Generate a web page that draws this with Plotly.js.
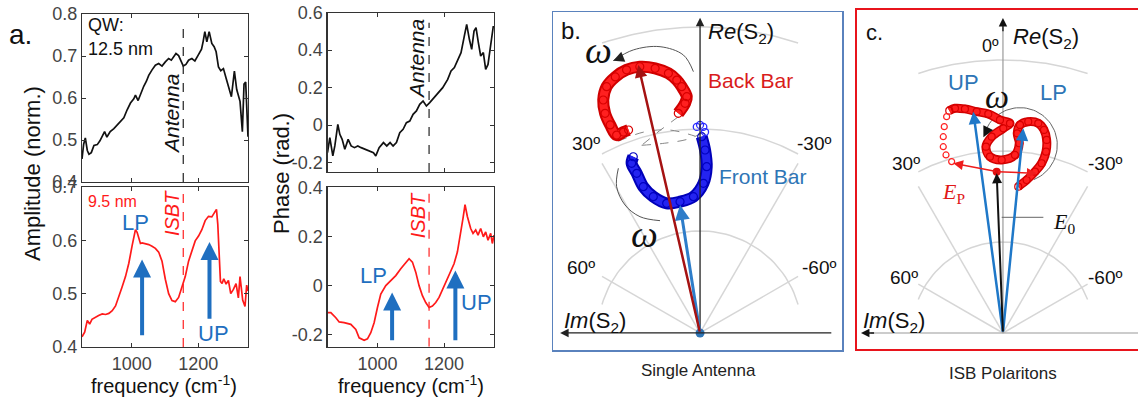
<!DOCTYPE html>
<html><head><meta charset="utf-8">
<script src="https://cdn.plot.ly/plotly-3.0.1.min.js"></script>
<style>html,body{margin:0;padding:0;background:#fff}#chart{width:1138px;height:399px}</style>
</head><body><div id="chart"></div>
<script>
// ---------- Panel a data ----------
const ampTopFreq = [850,855,860,866,871,878,886,896,904,912,918,925,935,946,956,966,976,986,996,1006,1011,1019,1027,1036,1044,1051,1061,1071,1081,1091,1101,1111,1119,1126,1133,1141,1148,1155,1163,1171,1181,1190,1200,1210,1215,1220,1226,1233,1241,1248,1254,1261,1268,1276,1283,1291,1300,1309,1316,1326,1333,1338,1343,1350];
const ampTopVal  = [0.455,0.49,0.505,0.475,0.466,0.47,0.487,0.489,0.498,0.51,0.52,0.507,0.52,0.527,0.535,0.545,0.553,0.572,0.588,0.598,0.607,0.594,0.612,0.628,0.64,0.654,0.667,0.678,0.682,0.676,0.686,0.694,0.69,0.698,0.706,0.701,0.688,0.676,0.68,0.69,0.694,0.688,0.702,0.716,0.735,0.758,0.734,0.758,0.73,0.722,0.71,0.674,0.665,0.67,0.65,0.627,0.603,0.664,0.62,0.592,0.52,0.633,0.638,0.508];

const ampBotFreq = [850,858,866,873,880,890,900,911,921,931,941,951,961,971,981,991,1001,1006,1011,1016,1021,1026,1031,1041,1051,1061,1071,1081,1091,1101,1111,1121,1131,1141,1151,1161,1171,1181,1191,1201,1211,1221,1231,1241,1249,1255,1259,1263,1267,1272,1277,1284,1291,1298,1306,1314,1321,1326,1334,1341,1346,1350];
const ampBotVal  = [0.419,0.428,0.45,0.443,0.452,0.456,0.459,0.462,0.461,0.463,0.468,0.477,0.497,0.513,0.532,0.557,0.59,0.607,0.62,0.615,0.602,0.594,0.595,0.594,0.592,0.589,0.585,0.578,0.561,0.527,0.5,0.487,0.485,0.493,0.515,0.532,0.561,0.582,0.599,0.608,0.62,0.637,0.645,0.644,0.652,0.658,0.63,0.56,0.523,0.519,0.528,0.518,0.525,0.5,0.508,0.519,0.492,0.532,0.488,0.476,0.516,0.505];

const phTopFreq = [850,857,866,872,881,887,894,902,912,921,931,941,951,963,978,988,995,1005,1018,1028,1038,1047,1057,1067,1077,1087,1097,1107,1117,1127,1137,1147,1157,1166,1181,1196,1211,1221,1231,1241,1251,1261,1268,1276,1283,1290,1296,1303,1310,1318,1325,1332,1340,1348];
const phTopVal  = [-0.147,-0.067,-0.164,-0.111,0.004,-0.049,-0.076,-0.129,-0.076,-0.111,-0.12,-0.111,-0.12,-0.129,-0.138,-0.147,-0.164,-0.12,-0.093,-0.111,-0.093,-0.111,-0.093,-0.04,-0.022,0.013,0.022,0.058,0.076,0.111,0.129,0.102,0.12,0.138,0.164,0.2,0.244,0.289,0.307,0.351,0.387,0.476,0.538,0.458,0.404,0.502,0.52,0.44,0.369,0.387,0.298,0.324,0.422,0.529];

const phBotFreq = [850,860,875,885,900,920,935,945,960,970,980,990,1000,1010,1025,1040,1055,1070,1085,1095,1105,1115,1125,1135,1145,1155,1165,1175,1185,1200,1215,1230,1240,1250,1257,1263,1270,1280,1287,1295,1302,1310,1318,1325,1332,1340,1345,1350];
const phBotVal  = [-0.111,-0.111,-0.132,-0.149,-0.152,-0.159,-0.18,-0.214,-0.224,-0.218,-0.193,-0.152,-0.09,-0.035,-0.001,0.02,0.04,0.068,0.095,0.109,0.095,0.054,-0.001,-0.042,-0.07,-0.09,-0.084,-0.07,-0.049,-0.001,0.047,0.088,0.136,0.212,0.274,0.329,0.281,0.232,0.212,0.226,0.205,0.232,0.198,0.218,0.184,0.212,0.171,0.205];

const antennaFreq = 1155;
const isbtFreq = 1155;
const freqTicks = [1000, 1200];
const ampTopTicks = [0.4,0.5,0.6,0.7,0.8];
const ampBotTicks = [0.4,0.5,0.6,0.7];
const phTopTicks = [-0.2,0,0.2,0.4,0.6];
const phTopTickText = ['-0.2','0','0.2','0.4','0.6'];
const phBotTicks = [-0.2,0,0.2,0.4];
const phBotTickText = ['-0.2','0','0.2','0.4'];
// polariton arrows (freq, tail, tip)
const ampArrowFreq = [1031, 1234];
const ampArrowTail = [0.419, 0.45];
const ampArrowTip  = [0.564, 0.597];
const phArrowFreq  = [1044, 1234];
const phArrowTail  = [-0.23, -0.23];
const phArrowTip   = [-0.029, 0.061];

// ---------- Panel b data (Im, Re) ----------
const backBarIm = [0.213,0.147,0.13,0.18,0.228,0.31,0.44,0.59,0.72,0.83,0.915,0.948,0.93,0.88,0.817,0.75,0.70];
const backBarRe = [2.154,2.252,2.317,2.415,2.48,2.546,2.595,2.61,2.58,2.51,2.415,2.284,2.154,2.04,1.94,1.97,1.99];
const frontBarIm = [0.654,0.67,0.62,0.556,0.458,0.327,0.196,0.065,-0.033,-0.065,-0.049,-0.016];
const frontBarRe = [1.728,1.663,1.565,1.434,1.336,1.271,1.287,1.336,1.467,1.63,1.794,1.925];
const frontOpenIm = [-0.049,-0.032,0.0,0.032];
const frontOpenRe = [1.97,2.02,2.04,2.02];
const bVecIm = [0.605, 0.196];   // back bar, front bar
const bVecRe = [2.627, 1.255];

// ---------- Panel c data (Im, Re) ----------
const polIm = [-0.168,-0.26,-0.352,-0.425,-0.473,-0.48,-0.451,-0.388,-0.278,-0.187,-0.157,-0.179,-0.132,0.014,0.143,0.187,0.124,-0.004,-0.077,0.033,0.161,0.289,0.418,0.527,0.59];
const polRe = [1.608,1.681,1.773,1.865,1.992,2.121,2.231,2.304,2.322,2.286,2.194,2.085,1.956,1.901,1.937,2.047,2.157,2.249,2.304,2.341,2.407,2.432,2.462,2.469,2.443];
const polOpenIm = [0.619,0.645,0.656,0.656,0.626,0.564];
const polOpenRe = [2.377,2.267,2.157,2.047,1.956,1.883];
const cVecIm = [0.326, -0.223, 0.069];  // UP, LP, E0
const cVecRe = [2.432, 2.249, 1.755];
const epOrigin = [0.069, 1.773];
const epTipsIm = [0.546, -0.37];
const epTipsRe = [1.865, 1.755];

const gridRadii = [1, 2, 3];
const spokeAngles = [30, 60, -30, -60];

// ---------- layout helpers ----------
const W = 1138, H = 399;
const PX = x => x / W, PY = y => 1 - y / H;
const FONT = 'Liberation Sans, Arial, sans-serif';
const SERIF = 'Liberation Serif, Times New Roman, serif';

function gridTrace(xa, ya, xlim) {
  const xs = [], ys = [];
  gridRadii.forEach(r => {
    const tmax = Math.asin(Math.min(1, xlim / r));
    for (let i = 0; i <= 60; i++) {
      const t = -tmax + 2 * tmax * i / 60;
      xs.push(r * Math.sin(t)); ys.push(r * Math.cos(t));
    }
    xs.push(null); ys.push(null);
  });
  spokeAngles.forEach(a => {
    const t = a * Math.PI / 180;
    const rEnd = xlim / Math.abs(Math.sin(t));
    xs.push(0, rEnd * Math.sin(t), null); ys.push(0, rEnd * Math.cos(t), null);
  });
  return {x: xs, y: ys, xaxis: xa, yaxis: ya, mode: 'lines', line: {color: '#d6d6d6', width: 1.5}, hoverinfo: 'skip'};
}

const traces = [];
// panel a lines
traces.push({x: ampTopFreq, y: ampTopVal, xaxis: 'x', yaxis: 'y', mode: 'lines', line: {color: '#111', width: 1.7}});
traces.push({x: [antennaFreq, antennaFreq], y: [0.4, 0.766], xaxis: 'x', yaxis: 'y', mode: 'lines', line: {color: '#222', width: 1.2, dash: 'dash'}});
traces.push({x: ampBotFreq, y: ampBotVal, xaxis: 'x2', yaxis: 'y2', mode: 'lines', line: {color: '#ff1a1a', width: 1.7}});
traces.push({x: [isbtFreq, isbtFreq], y: [0.4, 0.689], xaxis: 'x2', yaxis: 'y2', mode: 'lines', line: {color: '#ff2020', width: 1.2, dash: 'dash'}});
traces.push({x: phTopFreq, y: phTopVal, xaxis: 'x3', yaxis: 'y3', mode: 'lines', line: {color: '#111', width: 1.7}});
traces.push({x: [antennaFreq, antennaFreq], y: [-0.25, 0.547], xaxis: 'x3', yaxis: 'y3', mode: 'lines', line: {color: '#222', width: 1.2, dash: 'dash'}});
traces.push({x: phBotFreq, y: phBotVal, xaxis: 'x4', yaxis: 'y4', mode: 'lines', line: {color: '#ff1a1a', width: 1.7}});
traces.push({x: [isbtFreq, isbtFreq], y: [-0.25, 0.384], xaxis: 'x4', yaxis: 'y4', mode: 'lines', line: {color: '#ff2020', width: 1.2, dash: 'dash'}});

// panel b
traces.push(gridTrace('x5', 'y5', 0.96));
traces.push({x: [0.213, 0.40, 0.572], y: [2.12, 1.98, 1.84], xaxis: 'x5', yaxis: 'y5', mode: 'lines', line: {color: '#888', width: 1, dash: 'dash'}});
traces.push({x: [0.80, 0.55, 0.30, 0.05], y: [1.88, 1.97, 1.99, 1.93], xaxis: 'x5', yaxis: 'y5', mode: 'lines', line: {color: '#888', width: 1, dash: 'dash', shape: 'spline'}});
traces.push({x: [0.572, 0.35, 0.12, -0.02], y: [1.84, 1.86, 1.90, 1.96], xaxis: 'x5', yaxis: 'y5', mode: 'lines', line: {color: '#888', width: 1, dash: 'dash', shape: 'spline'}});
// loops: darker outline + bright fill + small circles
traces.push({x: backBarIm, y: backBarRe, xaxis: 'x5', yaxis: 'y5', mode: 'lines', line: {color: '#d00000', width: 12, shape: 'spline'}});
traces.push({x: backBarIm, y: backBarRe, xaxis: 'x5', yaxis: 'y5', mode: 'lines+markers', line: {color: '#ff2020', width: 8, shape: 'spline'}, marker: {symbol: 'circle-open', size: 8, color: '#d80000', line: {width: 1.2}}});
traces.push({x: frontBarIm, y: frontBarRe, xaxis: 'x5', yaxis: 'y5', mode: 'lines', line: {color: '#0000b8', width: 12, shape: 'spline'}});
traces.push({x: frontBarIm, y: frontBarRe, xaxis: 'x5', yaxis: 'y5', mode: 'lines+markers', line: {color: '#2424f0', width: 8, shape: 'spline'}, marker: {symbol: 'circle-open', size: 8, color: '#0000c0', line: {width: 1.2}}});
traces.push({x: frontOpenIm, y: frontOpenRe, xaxis: 'x5', yaxis: 'y5', mode: 'markers', marker: {symbol: 'circle-open', size: 7, color: '#2a2aff', line: {width: 1.3}}});
// omega arcs b
traces.push({x: [0.065, 0.163, 0.392, 0.654, 0.85], y: [2.562, 2.725, 2.807, 2.775, 2.67], xaxis: 'x5', yaxis: 'y5', mode: 'lines', line: {color: '#555', width: 1, shape: 'spline'}});
traces.push({x: [0.80, 0.817, 0.735, 0.588, 0.392], y: [1.615, 1.434, 1.255, 1.14, 1.101], xaxis: 'x5', yaxis: 'y5', mode: 'lines', line: {color: '#555', width: 1, shape: 'spline'}});
traces.push({x: [0], y: [0], xaxis: 'x5', yaxis: 'y5', mode: 'markers', marker: {color: '#2e75b6', size: 9}});

// panel c
traces.push(gridTrace('x6', 'y6', 0.93));
traces.push({x: [0, 0, null, -1.50, 1.45], y: [0, 3.36, null, 0, 0], xaxis: 'x6', yaxis: 'y6', mode: 'lines', line: {color: '#9a9a9a', width: 1.2}});
(function(){
  const cx = -0.187, cy = 2.066, r = 0.41, xs = [], ys = [];
  for (let i = 0; i <= 60; i++) {
    const p = (-68 + (160 + 68) * i / 60) * Math.PI / 180;
    xs.push(cx - r * Math.cos(p)); ys.push(cy + r * Math.sin(p));
  }
  traces.push({x: xs, y: ys, xaxis: 'x6', yaxis: 'y6', mode: 'lines', line: {color: '#666', width: 1}});
})();
traces.push({x: polIm, y: polRe, xaxis: 'x6', yaxis: 'y6', mode: 'lines', line: {color: '#d00000', width: 9, shape: 'spline'}});
traces.push({x: polIm, y: polRe, xaxis: 'x6', yaxis: 'y6', mode: 'lines+markers', line: {color: '#ff2020', width: 6, shape: 'spline'}, marker: {symbol: 'circle-open', size: 7, color: '#d80000', line: {width: 1.2}}});
traces.push({x: polOpenIm, y: polOpenRe, xaxis: 'x6', yaxis: 'y6', mode: 'markers', marker: {symbol: 'circle-open', size: 6, color: '#ff2020', line: {width: 1.2}}});
traces.push({x: [-0.444, 0.014], y: [1.271, 1.271], xaxis: 'x6', yaxis: 'y6', mode: 'lines', line: {color: '#666', width: 1}});

// ---------- annotations ----------
const ann = [];
function txt(x, y, text, size, color, extra) {
  return Object.assign({xref: 'paper', yref: 'paper', x: PX(x), y: PY(y), text: text, showarrow: false,
    font: {family: FONT, size: size, color: color || '#111'}, xanchor: 'center', yanchor: 'middle'}, extra || {});
}
function dtxt(n, x, y, text, size, color, extra) {
  const s = n === 1 ? '' : n;
  return Object.assign({xref: 'x' + s, yref: 'y' + s, x: x, y: y, text: text, showarrow: false,
    font: {family: FONT, size: size, color: color || '#111'}, xanchor: 'center', yanchor: 'middle'}, extra || {});
}
function serif(x, y, text, size, color) {
  return txt(x, y, text, size, color, {font: {family: SERIF, size: size, color: color}});
}
function arrow(n, x0, y0, x1, y1, color, width, size, head) {
  const s = n === 1 ? '' : n;
  return {xref: 'x' + s, yref: 'y' + s, axref: 'x' + s, ayref: 'y' + s, x: x1, y: y1, ax: x0, ay: y0,
    showarrow: true, text: '', arrowhead: head || 2, arrowsize: size, arrowwidth: width, arrowcolor: color, standoff: 0, startstandoff: 0};
}
const BLUE = '#1f6fc0';
// panel a
ann.push(txt(20, 34, 'a.', 28));
ann.push(dtxt(1, 861, 0.775, 'QW:', 18, '#111', {xanchor: 'left'}));
ann.push(dtxt(1, 861, 0.717, '12.5 nm', 18, '#111', {xanchor: 'left'}));
ann.push(dtxt(1, 1121, 0.562, '<i>Antenna</i>', 21, '#111', {textangle: -90}));
ann.push(dtxt(2, 863, 0.672, '9.5 nm', 16, '#ff1a1a', {xanchor: 'left'}));
ann.push(dtxt(2, 1121, 0.651, '<i>ISBT</i>', 20, '#ff1a1a', {textangle: -90}));
ann.push(dtxt(2, 1010, 0.634, 'LP', 22, BLUE));
ann.push(dtxt(2, 1247, 0.426, 'UP', 22, BLUE));
ann.push(dtxt(3, 1117, 0.355, '<i>Antenna</i>', 21, '#111', {textangle: -90}));
ann.push(dtxt(4, 1124, 0.285, '<i>ISBT</i>', 20, '#ff1a1a', {textangle: -90}));
ann.push(dtxt(4, 989, 0.04, 'LP', 22, BLUE));
ann.push(dtxt(4, 1296, -0.07, 'UP', 22, BLUE));
for (let i = 0; i < 2; i++) {
  ann.push(arrow(2, ampArrowFreq[i], ampArrowTail[i], ampArrowFreq[i], ampArrowTip[i], BLUE, 4, 0.9));
  ann.push(arrow(4, phArrowFreq[i], phArrowTail[i], phArrowFreq[i], phArrowTip[i], BLUE, 4, 0.9));
}
ann.push(txt(32, 174, 'Amplitude (norm.)', 22, '#111', {textangle: -90}));
ann.push(txt(281, 174, 'Phase (rad.)', 22, '#111', {textangle: -90}));
ann.push(txt(164, 384, 'frequency (cm<sup>-1</sup>)', 20));
ann.push(txt(411, 384, 'frequency (cm<sup>-1</sup>)', 20));

// panel b
ann.push(arrow(5, -1.30, 0, 1.37, 0, '#222', 1.3, 1.3));
ann.push(arrow(5, 0, 0, 0, 3.09, '#222', 1.3, 1.3));
ann.push(arrow(5, 0, 0, bVecIm[1], bVecRe[1], '#2e7dc9', 3, 1.0));
ann.push(arrow(5, 0, 0, bVecIm[0], bVecRe[0], '#a51212', 2.5, 1.0));
ann.push(arrow(5, 0.80, 2.69, 0.85, 2.67, '#222', 1.2, 1.8));
ann.push(arrow(5, 0.43, 1.108, 0.392, 1.101, '#222', 1.2, 1.8));
ann.push(txt(571, 30, 'b.', 24));
ann.push(txt(706, 33, '<i>Re</i>(S<sub>2</sub>)', 22, '#111', {xanchor: 'left'}));
ann.push(txt(706, 80, 'Back Bar', 21, '#d91c1c', {xanchor: 'left'}));
ann.push(txt(717, 177, 'Front Bar', 21, '#2e75b6', {xanchor: 'left'}));
ann.push(txt(586, 143, '30º', 19));
ann.push(txt(814, 143, '-30º', 19));
ann.push(txt(581, 267, '60º', 19));
ann.push(txt(819, 267, '-60º', 19));
ann.push(txt(562, 322, '<i>Im</i>(S<sub>2</sub>)', 22, '#111', {xanchor: 'left'}));
ann.push(txt(698, 370, 'Single Antenna', 17, '#222'));
ann.push(serif(598, 50, '<i>ω</i>', 38, '#111'));
ann.push(serif(644, 234, '<i>ω</i>', 38, '#111'));

// panel c
ann.push(arrow(6, 0, 3.30, 0, 3.46, '#111', 1.3, 1.3));
ann.push(arrow(6, 1.40, 0, 1.56, 0, '#111', 1.3, 1.3));
ann.push(arrow(6, 0, 0, cVecIm[0], cVecRe[0], '#1f78c8', 2.5, 1.0));
ann.push(arrow(6, 0, 0, cVecIm[1], cVecRe[1], '#1f78c8', 2.5, 1.0));
ann.push(arrow(6, 0, 0, cVecIm[2], cVecRe[2], '#111', 2, 1.0));
for (let i = 0; i < 2; i++) ann.push(arrow(6, epOrigin[0], epOrigin[1], epTipsIm[i], epTipsRe[i], '#ee1c1c', 1.5, 1.3));
ann.push(arrow(6, 0.19, 2.20, 0.215, 2.15, '#111', 1.2, 1.8));
ann.push(txt(875, 32, 'c.', 22));
ann.push(txt(1001, 46, '0º', 18, '#111', {xanchor: 'right'}));
ann.push(txt(1011, 38, '<i>Re</i>(S<sub>2</sub>)', 22, '#111', {xanchor: 'left'}));
ann.push(txt(963, 82, 'UP', 22, '#2e75b6'));
ann.push(txt(1053, 92, 'LP', 22, '#2e75b6'));
ann.push(serif(997, 97, '<i>ω</i>', 34, '#111'));
ann.push(txt(906, 163, '30º', 19));
ann.push(txt(1105, 163, '-30º', 19));
ann.push(txt(904, 277, '60º', 19));
ann.push(txt(1105, 277, '-60º', 19));
ann.push(serif(954, 193, '<i>E</i><sub>P</sub>', 22, '#e01818'));
ann.push(serif(1064, 223, '<i>E</i><sub>0</sub>', 22, '#111'));
ann.push(txt(861, 322, '<i>Im</i>(S<sub>2</sub>)', 22, '#111', {xanchor: 'left'}));
ann.push(txt(1003, 373, 'ISB Polaritons', 17, '#222'));

traces.push({x: [epOrigin[0]], y: [epOrigin[1]], xaxis: 'x6', yaxis: 'y6', mode: 'markers', marker: {color: '#e01010', size: 8}});

// ---------- axes ----------
function aAxis(domain, range, tickvals, ticktext, showlabels, anchor) {
  const o = {domain: domain, range: range, tickvals: tickvals, showticklabels: showlabels, anchor: anchor,
    showline: true, mirror: 'ticks', linecolor: '#333', linewidth: 1.2, ticks: 'inside', ticklen: 4, tickcolor: '#333',
    showgrid: false, zeroline: false, tickfont: {family: FONT, size: 18, color: '#444'}, fixedrange: true};
  if (ticktext) o.ticktext = ticktext;
  return o;
}
function pAxis(domain, range, anchor, color, width) {
  return {domain: domain, range: range, anchor: anchor, showline: true, mirror: true, linecolor: color, linewidth: width,
    ticks: '', showticklabels: false, showgrid: false, zeroline: false, fixedrange: true};
}
const ampX = [82 / W, 248 / W], phX = [327.5 / W, 494 / W];
const layout = {
  width: W, height: H, margin: {l: 0, r: 0, t: 0, b: 0}, paper_bgcolor: '#fff', plot_bgcolor: 'rgba(0,0,0,0)',
  showlegend: false, font: {family: FONT},
  xaxis:  aAxis(ampX, [850, 1350], freqTicks, null, false, 'y'),
  yaxis:  aAxis([PY(182), PY(14)], [0.4, 0.8], ampTopTicks, null, true, 'x'),
  xaxis2: aAxis(ampX, [850, 1350], freqTicks, null, true, 'y2'),
  yaxis2: aAxis([PY(347), PY(187)], [0.4, 0.7], ampBotTicks, null, true, 'x2'),
  xaxis3: aAxis(phX, [850, 1350], freqTicks, null, false, 'y3'),
  yaxis3: aAxis([PY(172), PY(12.7)], [-0.25, 0.6], phTopTicks, phTopTickText, true, 'x3'),
  xaxis4: aAxis(phX, [850, 1350], freqTicks, null, true, 'y4'),
  yaxis4: aAxis([PY(346.7), PY(187.3)], [-0.25, 0.4], phBotTicks, phBotTickText, true, 'x4'),
  xaxis5: pAxis([553 / W, 842 / W], [1.44, -1.39], 'y5', '#5a82bd', 1.5),
  yaxis5: pAxis([PY(350), PY(12)], [-0.167, 3.147], 'x5', '#5a82bd', 1.5),
  xaxis6: pAxis([857 / W, 1], [1.604, -1.484], 'y6', '#e8141c', 2.2),
  yaxis6: pAxis([PY(349), PY(10)], [-0.176, 3.549], 'x6', '#e8141c', 2.2),
  annotations: ann
};
Plotly.newPlot('chart', traces, layout, {staticPlot: true, displayModeBar: false});
</script></body></html>
